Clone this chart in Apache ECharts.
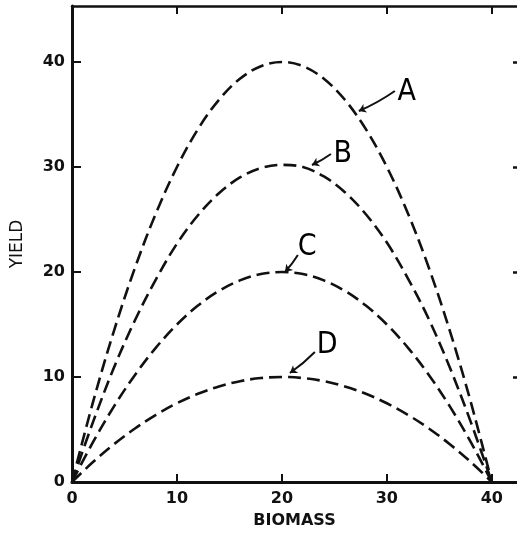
<!DOCTYPE html>
<html>
<head>
<meta charset="utf-8">
<script src="https://cdn.jsdelivr.net/npm/echarts@6/dist/echarts.min.js"></script>
<style>
  html, body { margin: 0; padding: 0; background: #fff; }
  #main { width: 517px; height: 535px; }
</style>
</head>
<body>
<div id="main"></div>
<script>
// biomass values where the curves were read
var biomass = [0, 2, 4, 6, 8, 10, 12, 14, 16, 18, 20, 22, 24, 26, 28, 30, 32, 34, 36, 38, 40];
// yield curves
var yieldA = [0, 7.6, 14.4, 20.4, 25.6, 30, 33.6, 36.4, 38.4, 39.6, 40, 39.6, 38.4, 36.4, 33.6, 30, 25.6, 20.4, 14.4, 7.6, 0];
var yieldB = [0, 5.7, 10.9, 15.4, 19.3, 22.7, 25.4, 27.5, 29.0, 29.9, 30.2, 30.0, 29.1, 27.6, 25.5, 22.8, 19.4, 15.5, 10.9, 5.7, 0];
var yieldC = [0, 3.8, 7.2, 10.2, 12.8, 15, 16.8, 18.2, 19.2, 19.8, 20, 19.8, 19.2, 18.2, 16.8, 15, 12.8, 10.2, 7.2, 3.8, 0];
var yieldD = [0, 1.9, 3.6, 5.1, 6.4, 7.5, 8.4, 9.1, 9.6, 9.9, 10, 9.9, 9.6, 9.1, 8.4, 7.5, 6.4, 5.1, 3.6, 1.9, 0];

var xTicks = [0, 10, 20, 30, 40];
var yTicks = [0, 10, 20, 30, 40];

// curve labels and their pointer arrows, in data units
var curveNames = ['A', 'B', 'C', 'D'];
var labelPos = [[31.9, 37.1], [25.8, 31.2], [22.4, 22.4], [24.3, 13.0]];
var arrowFrom = [[30.76, 37.24], [24.67, 31.24], [21.52, 21.62], [23.14, 12.38]];
var arrowTo = [[27.33, 35.33], [22.86, 30.19], [20.29, 20.0], [20.76, 10.38]];

function pairs(ys) {
    return biomass.map(function (x, i) { return [x, ys[i]]; });
}

var dash = { color: '#111', width: 2.6, type: [13, 6] };

function curve(name, ys) {
    return {
        name: name,
        type: 'line',
        data: pairs(ys),
        smooth: 0.35,
        showSymbol: false,
        lineStyle: dash,
        z: 3
    };
}

var font = 'DejaVu Sans';
var black = '#111';

var myChart = echarts.init(document.getElementById('main'));
myChart.setOption({
    animation: false,
    backgroundColor: '#fff',
    grid: { left: 72, top: 6, right: 0, height: 476 },
    xAxis: [{
        type: 'value', min: 0, max: 42.4, interval: 10,
        name: 'BIOMASS', nameLocation: 'middle', nameGap: 31,
        nameTextStyle: { fontFamily: font, fontSize: 16, fontWeight: 'bold', color: black },
        axisLine: { show: true, onZero: false, lineStyle: { color: black, width: 3 } },
        axisTick: { show: true, inside: true, length: 8, lineStyle: { color: black, width: 2 }, customValues: xTicks },
        axisLabel: { fontFamily: font, fontSize: 16, fontWeight: 'bold', color: black, margin: 9, customValues: xTicks },
        splitLine: { show: false }
    }, {
        type: 'value', min: 0, max: 42.4, interval: 10, position: 'top',
        axisLine: { show: true, onZero: false, lineStyle: { color: black, width: 2.5 } },
        axisTick: { show: true, inside: true, length: 8, lineStyle: { color: black, width: 2 }, customValues: [10, 20, 30, 40] },
        axisLabel: { show: false },
        splitLine: { show: false }
    }],
    yAxis: [{
        type: 'value', min: 0, max: 45.33, interval: 10,
        name: 'YIELD', nameLocation: 'middle', nameGap: 46, nameRotate: 90,
        nameTextStyle: { fontFamily: font, fontSize: 17, color: black },
        axisLine: { show: true, onZero: false, lineStyle: { color: black, width: 3 } },
        axisTick: { show: true, inside: true, length: 9, lineStyle: { color: black, width: 2 }, customValues: [10, 20, 30, 40] },
        axisLabel: { fontFamily: font, fontSize: 16, fontWeight: 'bold', color: black, margin: 7, customValues: yTicks },
        splitLine: { show: false }
    }, {
        type: 'value', min: 0, max: 45.33, interval: 10, position: 'right',
        axisLine: { show: false, onZero: false },
        axisTick: { show: true, inside: true, length: 4, lineStyle: { color: black, width: 2.5 }, customValues: [10, 20, 30, 40] },
        axisLabel: { show: false },
        splitLine: { show: false }
    }],
    series: [
        curve('A', yieldA),
        curve('B', yieldB),
        curve('C', yieldC),
        curve('D', yieldD),
        {
            type: 'lines',
            coordinateSystem: 'cartesian2d',
            symbol: ['none', 'arrow'],
            symbolSize: 7,
            lineStyle: { color: black, width: 2, opacity: 1, curveness: 0.05 },
            data: curveNames.map(function (n, i) {
                return { coords: [arrowFrom[i], arrowTo[i]] };
            }),
            z: 4
        },
        {
            type: 'scatter',
            symbolSize: 0,
            itemStyle: { opacity: 1 },
            data: curveNames.map(function (n, i) {
                return { name: n, value: labelPos[i] };
            }),
            label: {
                show: true, position: 'inside', formatter: '{b}',
                fontFamily: 'DejaVu Sans Condensed, DejaVu Sans', fontSize: 30, color: '#000'
            },
            z: 5
        }
    ]
});
</script>
</body>
</html>
